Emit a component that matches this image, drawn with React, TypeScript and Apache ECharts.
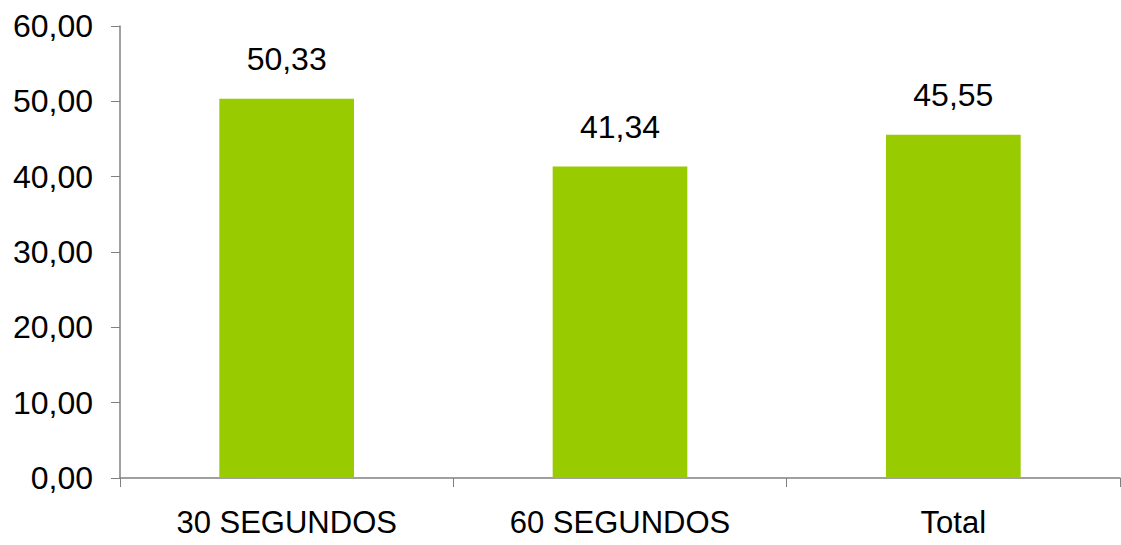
import React, { useEffect, useRef } from "react";
import * as echarts from "echarts";

const categories = ["30 SEGUNDOS", "60 SEGUNDOS", "Total"];
const values = [50.33, 41.34, 45.55];
const yTicks = { min: 0, max: 60, interval: 10 };

const fmt = (v: number) => v.toFixed(2).replace(".", ",");

export default function App() {
  const ref = useRef<HTMLDivElement>(null);
  useEffect(() => {
    const chart = echarts.init(ref.current!, null, { renderer: "svg" });
    const font = "Liberation Sans, Arial, sans-serif";
    chart.setOption({
      animation: false,
      backgroundColor: "#ffffff",
      grid: { left: 120, right: 1, top: 26, bottom: 67 },
      xAxis: {
        type: "category",
        data: categories,
        axisLine: { lineStyle: { color: "#808080", width: 1.5 } },
        axisTick: { show: true, length: 9, alignWithLabel: false, lineStyle: { color: "#808080" } },
        axisLabel: { color: "#000", fontFamily: font, fontSize: 31, margin: 29 },
        splitLine: { show: false },
      },
      yAxis: {
        type: "value",
        min: yTicks.min,
        max: yTicks.max,
        interval: yTicks.interval,
        axisLine: { show: true, lineStyle: { color: "#808080", width: 1.5 } },
        axisTick: { show: true, length: 9, lineStyle: { color: "#808080" } },
        axisLabel: { color: "#000", fontFamily: font, fontSize: 32, margin: 27, formatter: (v: number) => fmt(v) },
        splitLine: { show: false },
      },
      series: [
        {
          type: "bar",
          data: values,
          barWidth: "40.4%",
          itemStyle: { color: "#99CC00" },
          label: {
            show: true,
            position: "top",
            distance: 24,
            color: "#000",
            fontFamily: font,
            fontSize: 32,
            formatter: (p: any) => fmt(p.value),
          },
        },
      ],
    });
    return () => chart.dispose();
  }, []);
  return <div ref={ref} style={{ width: 1121, height: 545, position: "absolute", left: 0, top: 0 }} />;
}
